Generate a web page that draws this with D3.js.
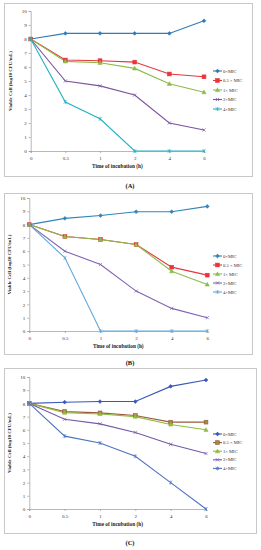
<!DOCTYPE html>
<html><head><meta charset="utf-8">
<script src="https://cdn.jsdelivr.net/npm/d3@7"></script>
<style>
html,body{margin:0;padding:0;background:#fff;}
svg{display:block;}
text{font-family:"Liberation Serif","Times New Roman",serif;}
</style></head>
<body><svg id="c" width="261" height="550"></svg>
<script>
const times = ["0","0.5","1","2","4","6"];
const seriesNames = ["0×MIC","0.5 × MIC","1× MIC","2×MIC","4×MIC"];
const yTicks = [0,1,2,3,4,5,6,7,8,9,10];

const dataA = [
  [8, 8.4, 8.4, 8.4, 8.4, 9.3],
  [8, 6.5, 6.45, 6.35, 5.5, 5.3],
  [8, 6.4, 6.3, 5.9, 4.8, 4.2],
  [8, 5.0, 4.65, 4.0, 2.0, 1.5],
  [8, 3.5, 2.3, 0, 0, 0]
];
const dataB = [
  [8, 8.47, 8.68, 8.97, 8.97, 9.37],
  [8, 7.1, 6.88, 6.5, 4.8, 4.2],
  [8, 7.1, 6.88, 6.5, 4.5, 3.5],
  [8, 6.0, 5.0, 3.0, 1.7, 1.0],
  [8, 5.5, 0, 0, 0, 0]
];
const dataC = [
  [8, 8.09, 8.14, 8.14, 9.29, 9.77],
  [8, 7.38, 7.28, 7.08, 6.58, 6.58],
  [8, 7.3, 7.2, 7.0, 6.4, 6.0],
  [8, 6.8, 6.45, 5.8, 4.9, 4.2],
  [8, 5.52, 5.0, 4.0, 2.0, 0]
];

const markers = ["diamond","square","triangle","x","star"];
const panels = [
  {data:dataA, label:"(A)", box:[4,3,252,176], px:[30.7,204], py:[151,11], capY:186,
   legY:71, legStep:9.5,
   colors:["#2f7ab8","#e8353b","#8bbd4a","#7c52a0","#23b2c4"],
   fills:["#2f7ab8","#e8353b","#8bbd4a","#7c52a0","#23b2c4"]},
  {data:dataB, label:"(B)", box:[4,193,252,354], px:[29.3,207.3], py:[331,198], capY:363,
   legY:256, legStep:9,
   colors:["#2f86b5","#e8353b","#8bbd4a","#8063b0","#5fa8d8"],
   fills:["#2f86b5","#e8353b","#8bbd4a","#8063b0","#8fb4e3"]},
  {data:dataC, label:"(C)", box:[4,368,256,533], px:[29.3,206], py:[509,377], capY:543,
   legY:434, legStep:8.6,
   colors:["#3a56b8","#9b5a3a","#8fbd3c","#7658a6","#4e74c2"],
   fills:["#3a56b8","#a08a40","#8fbd3c","#7658a6","#4e74c2"]}
];

const svg = d3.select("#c");

function drawMarker(g, type, x, y, color, fill){
  const s = 1.9;
  if(type==="diamond"){
    g.append("path").attr("d",`M${x},${y-s}L${x+s},${y}L${x},${y+s}L${x-s},${y}Z`).attr("fill",fill).attr("stroke",color).attr("stroke-width",0.6);
  } else if(type==="square"){
    g.append("rect").attr("x",x-1.9).attr("y",y-1.9).attr("width",3.8).attr("height",3.8).attr("fill",fill).attr("stroke",color).attr("stroke-width",0.6);
  } else if(type==="triangle"){
    g.append("path").attr("d",`M${x},${y-2.1}L${x+2.1},${y+1.6}L${x-2.1},${y+1.6}Z`).attr("fill",fill).attr("stroke",color).attr("stroke-width",0.6);
  } else if(type==="x"){
    g.append("path").attr("d",`M${x-1.6},${y-1.6}L${x+1.6},${y+1.6}M${x-1.6},${y+1.6}L${x+1.6},${y-1.6}`).attr("stroke",color).attr("stroke-width",0.7);
  } else {
    g.append("path").attr("d",`M${x-1.6},${y-1.6}L${x+1.6},${y+1.6}M${x-1.6},${y+1.6}L${x+1.6},${y-1.6}M${x},${y-2}L${x},${y+2}`).attr("stroke",color).attr("stroke-width",0.7);
  }
}

panels.forEach(p=>{
  const [bx0,by0,bx1,by1] = p.box;
  svg.append("rect").attr("x",bx0+0.5).attr("y",by0+0.5).attr("width",bx1-bx0).attr("height",by1-by0)
    .attr("fill","#fff").attr("stroke","#c8c8c8").attr("stroke-width",1);

  const x = d3.scalePoint().domain(times).range(p.px);
  const y = d3.scaleLinear().domain([0,10]).range(p.py);
  const g = svg.append("g");

  // y axis
  const ya = g.append("g").attr("transform",`translate(${p.px[0]},0)`)
    .call(d3.axisLeft(y).tickValues(yTicks).tickSize(2).tickPadding(2).tickFormat(d3.format("d")));
  ya.select(".domain").attr("stroke","#999").attr("stroke-width",0.7);
  ya.selectAll(".tick line").attr("stroke","#999").attr("stroke-width",0.7);
  ya.selectAll("text").attr("font-size",5).attr("fill","#333").style("font-family","Liberation Serif");

  // x axis
  const xa = g.append("g").attr("transform",`translate(0,${p.py[0]})`)
    .call(d3.axisBottom(x).tickSize(2).tickPadding(3));
  xa.select(".domain").attr("stroke","#999").attr("stroke-width",0.7);
  xa.selectAll(".tick line").attr("stroke","#999").attr("stroke-width",0.7);
  xa.selectAll("text").attr("font-size",5).attr("fill","#333").style("font-family","Liberation Serif");

  // axis titles
  g.append("text").attr("x",(p.px[0]+p.px[1])/2).attr("y",p.py[0]+16.5)
    .attr("text-anchor","middle").attr("font-size",5.3).attr("font-weight","bold").attr("fill","#222")
    .text("Time of incubation (h)");
  g.append("text").attr("transform",`translate(${p.px[0]-18.5},${(p.py[0]+p.py[1])/2}) rotate(-90)`)
    .attr("text-anchor","middle").attr("font-size",5).attr("font-weight","bold").attr("fill","#222")
    .text("Viable Cell (log10 CFU/mL)");

  // series
  const line = d3.line().x((d,i)=>x(times[i])).y(d=>y(d));
  p.data.forEach((vals,si)=>{
    g.append("path").datum(vals).attr("d",line).attr("fill","none")
      .attr("stroke",p.colors[si]).attr("stroke-width",1.1);
  });
  p.data.forEach((vals,si)=>{
    vals.forEach((v,i)=>drawMarker(g, markers[si], x(times[i]), y(v), p.colors[si], p.fills[si]));
  });

  // legend
  const lx = 213;
  seriesNames.forEach((n,si)=>{
    const ly = p.legY + si*p.legStep;
    g.append("line").attr("x1",lx).attr("x2",lx+9).attr("y1",ly).attr("y2",ly)
      .attr("stroke",p.colors[si]).attr("stroke-width",1.1);
    drawMarker(g, markers[si], lx+4.5, ly, p.colors[si], p.fills[si]);
    g.append("text").attr("x",lx+10).attr("y",ly+1.6).attr("font-size",4.6).attr("fill","#333").text(n);
  });

  // caption
  svg.append("text").attr("x",130).attr("y",p.capY+2).attr("text-anchor","middle")
    .attr("font-size",6.5).attr("font-weight","bold").attr("fill","#111").text(p.label);
});
</script></body></html>
